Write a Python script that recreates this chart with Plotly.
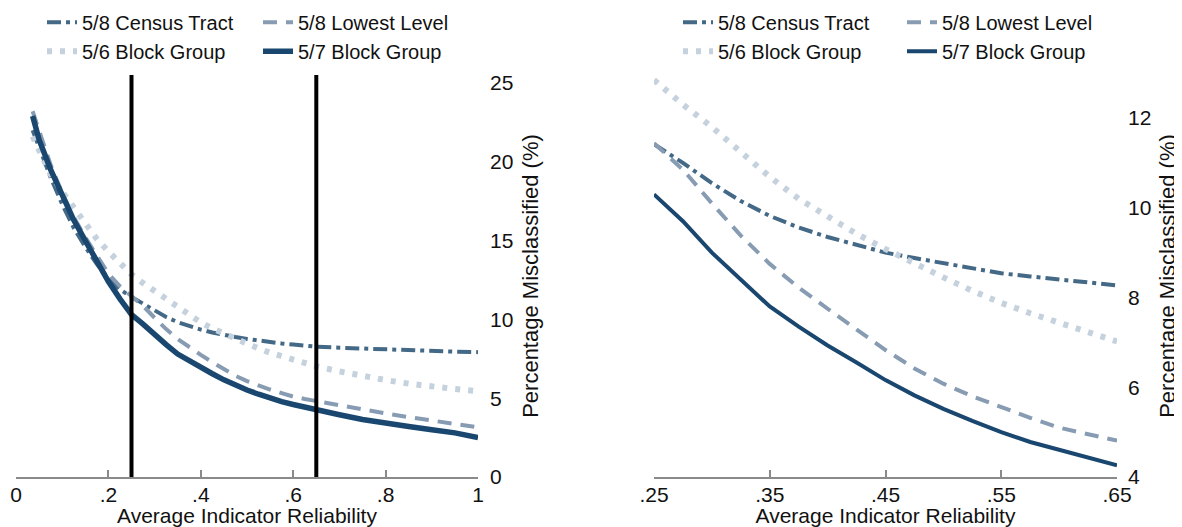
import plotly.graph_objects as go

# ---------------- data ----------------
reliability = [0.036, 0.05, 0.075, 0.1, 0.125, 0.15, 0.175, 0.2, 0.225, 0.25,
               0.275, 0.3, 0.325, 0.35, 0.375, 0.4, 0.425, 0.45, 0.475, 0.5,
               0.525, 0.55, 0.575, 0.6, 0.625, 0.65, 0.7, 0.75, 0.8, 0.85,
               0.9, 0.95, 1.0]

census_tract_58 = [22.0, 20.9, 19.0, 17.3, 15.8, 14.6, 13.5, 12.6, 11.9, 11.42,
                   11.0, 10.55, 10.15, 9.82, 9.56, 9.35, 9.17, 9.0, 8.88, 8.76,
                   8.65, 8.54, 8.47, 8.4, 8.33, 8.27, 8.2, 8.14, 8.08, 8.03,
                   7.99, 7.95, 7.92]

lowest_level_58 = [23.2, 22.0, 19.8, 18.0, 16.5, 15.2, 14.0, 12.9, 12.1, 11.44,
                   10.85, 10.1, 9.38, 8.75, 8.22, 7.75, 7.28, 6.83, 6.42, 6.08,
                   5.8, 5.55, 5.32, 5.1, 4.95, 4.81, 4.55, 4.28, 4.03, 3.8,
                   3.6, 3.38, 3.15]

block_group_56 = [21.6, 20.8, 19.2, 18.1, 17.1, 16.2, 15.1, 14.3, 13.6, 12.85,
                  12.3, 11.8, 11.25, 10.69, 10.2, 9.8, 9.42, 9.08, 8.75, 8.45,
                  8.15, 7.88, 7.65, 7.43, 7.22, 7.02, 6.7, 6.4, 6.15, 5.92,
                  5.73, 5.58, 5.45]

block_group_57 = [22.9, 21.4, 19.5, 17.8, 16.3, 15.0, 13.7, 12.4, 11.3, 10.3,
                  9.7, 9.0, 8.4, 7.8, 7.35, 6.93, 6.55, 6.16, 5.82, 5.52,
                  5.25, 5.0, 4.78, 4.6, 4.42, 4.26, 3.95, 3.65, 3.4, 3.2,
                  3.0, 2.8, 2.5]

series_names = ["5/8 Census Tract", "5/8 Lowest Level",
                "5/6 Block Group", "5/7 Block Group"]

left_xtickvals = [0, 0.2, 0.4, 0.6, 0.8, 1]
left_xticktext = ["0", ".2", ".4", ".6", ".8", "1"]
left_ytickvals = [0, 5, 10, 15, 20, 25]
right_xtickvals = [0.25, 0.35, 0.45, 0.55, 0.65]
right_xticktext = [".25", ".35", ".45", ".55", ".65"]
right_ytickvals = [4, 6, 8, 10, 12]
reference_lines = [0.25, 0.65]
zoom_window = [0.25, 0.65]

x_title = "Average Indicator Reliability"
y_title = "Percentage Misclassified (%)"

# ---------------- styling ----------------
FONT = "Liberation Sans, Arial, sans-serif"
TXT = "#111111"
AXC = "#8a8a8a"
colors = ["rgb(68,105,135)", "rgb(135,156,178)", "rgb(197,209,221)", "rgb(26,71,111)"]
dashes = ["14px,5px,4px,5px", "14px,9px", "5px,8px", "solid"]
widths_left = [4, 4, 6, 5.5]
widths_right = [4, 4, 6, 4]

# the page body adds an 8px offset; the figure fills the rest of the window
OFF = 8
W, H = 1182 - OFF, 527 - OFF

def dom_x(a, b):
    return [(a - OFF) / W, (b - OFF) / W]

y_dom = [(H - (477 - OFF)) / H, (H - (75 - OFF)) / H]

series_values = [census_tract_58, lowest_level_58, block_group_56, block_group_57]

fig = go.Figure()

left_legends = ["legend", "legend2", "legend", "legend2"]
right_legends = ["legend3", "legend4", "legend3", "legend4"]

for i, name in enumerate(series_names):
    fig.add_trace(go.Scatter(
        x=reliability, y=series_values[i], mode="lines", name=name,
        line=dict(color=colors[i], width=widths_left[i], dash=dashes[i]),
        xaxis="x", yaxis="y", legend=left_legends[i], hoverinfo="skip"))

zx = [v for v in reliability if zoom_window[0] <= v <= zoom_window[1]]
for i, name in enumerate(series_names):
    zy = [series_values[i][k] for k, v in enumerate(reliability)
          if zoom_window[0] <= v <= zoom_window[1]]
    fig.add_trace(go.Scatter(
        x=zx, y=zy, mode="lines", name=name,
        line=dict(color=colors[i], width=widths_right[i], dash=dashes[i]),
        xaxis="x2", yaxis="y2", legend=right_legends[i], hoverinfo="skip"))

for xv in reference_lines:
    fig.add_shape(type="line", xref="x", yref="y domain", x0=xv, x1=xv,
                  y0=0, y1=1, line=dict(color="black", width=4), layer="above")

xcommon = dict(showline=True, linecolor=AXC, linewidth=2, ticks="inside",
               ticklen=7, tickwidth=2, tickcolor=AXC, showgrid=False,
               zeroline=False, tickfont=dict(size=21, color=TXT, family=FONT),
               automargin=False, ticklabelstandoff=-2,
               title=dict(text=x_title, font=dict(size=21, color=TXT, family=FONT),
                          standoff=2))
ycommon = dict(side="right", showline=False, ticks="", showgrid=False,
               zeroline=False, tickfont=dict(size=21, color=TXT, family=FONT),
               automargin=False, ticklabelstandoff=11,
               title=dict(text=y_title, font=dict(size=22, color=TXT, family=FONT),
                          standoff=10))

legend_common = dict(orientation="v", yanchor="top", y=1.01, xanchor="left",
                     bgcolor="rgba(0,0,0,0)", borderwidth=0,
                     font=dict(size=20, color=TXT, family=FONT),
                     traceorder="normal", itemclick=False, itemdoubleclick=False)

def leg_x(text_start):
    return (text_start - OFF - 40) / W

fig.update_layout(
    width=W, height=H,
    margin=dict(l=0, r=0, t=0, b=0, autoexpand=False),
    paper_bgcolor="white", plot_bgcolor="white",
    font=dict(family=FONT, color=TXT, size=20),
    xaxis=dict(xcommon, domain=dom_x(16, 478), range=[0, 1], anchor="y",
               tickvals=left_xtickvals, ticktext=left_xticktext),
    yaxis=dict(ycommon, domain=y_dom, range=[0, 25.5], anchor="x",
               tickvals=left_ytickvals),
    xaxis2=dict(xcommon, domain=dom_x(654, 1117), range=zoom_window, anchor="y2",
                tickvals=right_xtickvals, ticktext=right_xticktext),
    yaxis2=dict(ycommon, domain=y_dom, range=[4, 12.96], anchor="x2",
                tickvals=right_ytickvals, ticklabelstandoff=10,
                title=dict(text=y_title, font=dict(size=22, color=TXT, family=FONT),
                           standoff=9)),
    legend=dict(legend_common, x=leg_x(82)),
    legend2=dict(legend_common, x=leg_x(298)),
    legend3=dict(legend_common, x=leg_x(718)),
    legend4=dict(legend_common, x=leg_x(942)),
    showlegend=True,
)

fig.write_html("out.html")
